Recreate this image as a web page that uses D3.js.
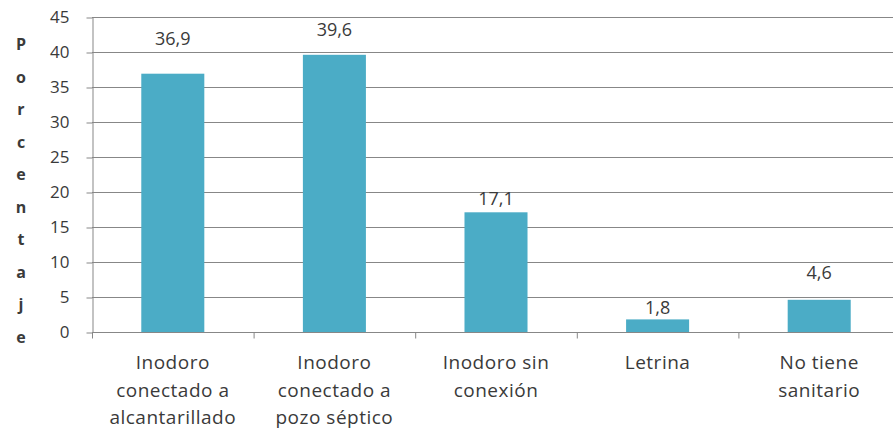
<!DOCTYPE html>
<html>
<head>
<meta charset="utf-8">
<script src="https://cdn.jsdelivr.net/npm/d3@7"></script>
<style>
  html, body { margin: 0; padding: 0; background: #fff; }
  svg { display: block; }
  text { font-family: "Open Sans", "DejaVu Sans", sans-serif; fill: #3a3a3a; }
</style>
</head>
<body>
<svg id="chart" width="893" height="430"></svg>
<script>
// ---- data ----
const categories = [
  ["Inodoro", "conectado a", "alcantarillado"],
  ["Inodoro", "conectado a", "pozo séptico"],
  ["Inodoro sin", "conexión"],
  ["Letrina"],
  ["No tiene", "sanitario"]
];
const values = [36.9, 39.6, 17.1, 1.8, 4.6];
const valueLabels = ["36,9", "39,6", "17,1", "1,8", "4,6"];
const yTicks = [0, 5, 10, 15, 20, 25, 30, 35, 40, 45];
const yTitle = "Porcentaje";

// ---- style / layout ----
const labelGap = [29, 19, 7, 5, 21]; // px between bar top and value label baseline
const barColor = "#4bacc6";
const gridColor = "#878787";

const svg = d3.select("#chart");
const mLeft = 92, mRight = 900, mTop = 17, mBottom = 332;

const x = d3.scaleBand()
  .domain(d3.range(values.length))
  .range([mLeft, mRight])
  .paddingInner(0.61)
  .paddingOuter(0.305);
const xOuter = d3.scaleBand()
  .domain(d3.range(values.length))
  .range([mLeft, mRight])
  .padding(0);

const y = d3.scaleLinear().domain([0, 45]).range([mBottom, mTop]);

// gridlines
svg.append("g").selectAll("line")
  .data(yTicks.filter(t => t > 0))
  .join("line")
  .attr("x1", mLeft).attr("x2", mRight)
  .attr("y1", d => y(d) + 0.5).attr("y2", d => y(d) + 0.5)
  .attr("stroke", gridColor).attr("stroke-width", 1);

// y axis
const yAxis = svg.append("g")
  .attr("transform", `translate(${mLeft + 0.5},0.5)`)
  .call(d3.axisLeft(y).tickValues(yTicks).tickSize(6).tickPadding(17).tickSizeOuter(0));
yAxis.select(".domain").attr("stroke", gridColor);
yAxis.selectAll(".tick line").attr("stroke", gridColor);
yAxis.selectAll(".tick text")
  .style("font-family", '"Open Sans", sans-serif')
  .style("font-size", "17px")
  .attr("fill", "#3a3a3a");

// bars
svg.append("g").selectAll("rect")
  .data(values)
  .join("rect")
  .attr("x", (d, i) => x(i))
  .attr("width", x.bandwidth())
  .attr("y", d => y(d))
  .attr("height", d => y(0) - y(d))
  .attr("fill", barColor);

// x axis
const xAxisG = svg.append("g")
  .attr("transform", `translate(0,${mBottom + 0.5})`);
xAxisG.append("line")
  .attr("x1", mLeft).attr("x2", mRight)
  .attr("stroke", gridColor);
xAxisG.selectAll("line.tk")
  .data(d3.range(values.length + 1))
  .join("line")
  .attr("class", "tk")
  .attr("x1", i => (i < values.length ? xOuter(i) : mRight) + 0.5)
  .attr("x2", i => (i < values.length ? xOuter(i) : mRight) + 0.5)
  .attr("y1", 0).attr("y2", 6)
  .attr("stroke", gridColor);

// category labels
const catG = svg.append("g");
categories.forEach((lines, i) => {
  const cx = xOuter(i) + xOuter.bandwidth() / 2;
  const t = catG.append("text")
    .attr("text-anchor", "middle")
    .style("font-size", "19px")
    .style("letter-spacing", "0.5px");
  lines.forEach((ln, j) => {
    t.append("tspan").attr("x", cx).attr("y", 369 + j * 27.5).text(ln);
  });
});

// value labels
svg.append("g").selectAll("text")
  .data(values)
  .join("text")
  .attr("x", (d, i) => x(i) + x.bandwidth() / 2)
  .attr("y", (d, i) => y(d) - labelGap[i])
  .attr("text-anchor", "middle")
  .style("font-size", "18px")
  .text((d, i) => valueLabels[i]);

// vertical y title, letters stacked
svg.append("g").selectAll("text")
  .data(yTitle.split(""))
  .join("text")
  .attr("x", 21)
  .attr("y", (d, i) => 50 + i * 32.5)
  .attr("text-anchor", "middle")
  .style("font-size", "16px")
  .style("font-weight", "bold")
  .attr("fill", "#222")
  .text(d => d);
</script>
</body>
</html>
